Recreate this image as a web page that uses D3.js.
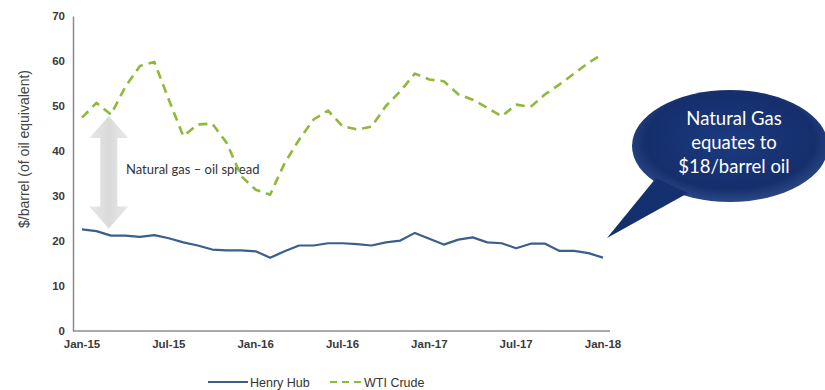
<!DOCTYPE html>
<html>
<head>
<meta charset="utf-8">
<script src="https://cdn.jsdelivr.net/npm/d3@7/dist/d3.min.js"></script>
<style>
	html, body { margin: 0; padding: 0; background: #fff; }
	svg { display: block; }
	.tick-label { font-family: "Liberation Sans", Arial, sans-serif; font-weight: bold; font-size: 11.5px; fill: #3a3a3a; }
	.legend-label { font-family: "Liberation Sans", Arial, sans-serif; font-size: 12.5px; fill: #333; }
</style>
</head>
<body>
<svg id="chart"></svg>
<script>

// Monthly values, Jan-15 .. Jan-18 ($/barrel of oil equivalent)
var months = [
	'Jan-15', 'Feb-15', 'Mar-15', 'Apr-15', 'May-15', 'Jun-15', 'Jul-15', 'Aug-15', 'Sep-15', 'Oct-15', 'Nov-15', 'Dec-15',
	'Jan-16', 'Feb-16', 'Mar-16', 'Apr-16', 'May-16', 'Jun-16', 'Jul-16', 'Aug-16', 'Sep-16', 'Oct-16', 'Nov-16', 'Dec-16',
	'Jan-17', 'Feb-17', 'Mar-17', 'Apr-17', 'May-17', 'Jun-17', 'Jul-17', 'Aug-17', 'Sep-17', 'Oct-17', 'Nov-17', 'Dec-17',
	'Jan-18'
];

var henryHub = [
	22.6, 22.2, 21.2, 21.2, 20.9, 21.3, 20.6, 19.7, 19.0, 18.1, 17.9, 17.9,
	17.7, 16.3, 17.7, 19.0, 19.0, 19.5, 19.5, 19.3, 19.0, 19.7, 20.1, 21.8,
	20.5, 19.2, 20.3, 20.8, 19.7, 19.5, 18.4, 19.4, 19.4, 17.8, 17.8, 17.3,
	16.3
];

var wtiCrude = [
	47.4, 50.7, 48.1, 54.3, 58.9, 59.8, 51.4, 43.3, 45.9, 46.1, 41.8, 34.4,
	31.4, 30.3, 37.3, 42.5, 47.0, 49.0, 45.5, 44.8, 45.4, 50.0, 53.3, 57.2,
	55.9, 55.5, 52.6, 51.4, 49.6, 47.7, 50.3, 49.8, 52.6, 54.8, 57.2, 59.6,
	61.6
];

var xTickLabels = [ 'Jan-15', 'Jul-15', 'Jan-16', 'Jul-16', 'Jan-17', 'Jul-17', 'Jan-18' ];
var yTicks = [ 0, 10, 20, 30, 40, 50, 60, 70 ];

var calloutLines = [ 'Natural Gas', 'equates to', '$18/barrel oil' ];

var colors = {
	henry: '#3b5f8c',
	wti: '#8fb83c',
	axis: '#8c8c8c',
	bubble: '#15306e'
};

var width = 825;
var height = 390;

var svg = d3.select( '#chart' )
	.attr( 'width', width )
	.attr( 'height', height );

var x = d3.scaleLinear()
	.domain( [ 0, months.length - 1 ] )
	.range( [ 82, 603 ] );

var y = d3.scaleLinear()
	.domain( [ 0, 70 ] )
	.range( [ 331, 16 ] );

var defs = svg.append( 'defs' );

var bubbleGrad = defs.append( 'radialGradient' )
	.attr( 'id', 'bubble-grad' )
	.attr( 'cx', '50%' ).attr( 'cy', '45%' ).attr( 'r', '60%' );
bubbleGrad.append( 'stop' ).attr( 'offset', '0%' ).attr( 'stop-color', '#1b3a80' );
bubbleGrad.append( 'stop' ).attr( 'offset', '72%' ).attr( 'stop-color', '#152f6c' );
bubbleGrad.append( 'stop' ).attr( 'offset', '100%' ).attr( 'stop-color', '#34528f' );

var arrowGrad = defs.append( 'linearGradient' )
	.attr( 'id', 'arrow-grad' )
	.attr( 'x1', 0 ).attr( 'x2', 1 ).attr( 'y1', 0 ).attr( 'y2', 0 );
arrowGrad.append( 'stop' ).attr( 'offset', '0%' ).attr( 'stop-color', '#e8e8e8' );
arrowGrad.append( 'stop' ).attr( 'offset', '50%' ).attr( 'stop-color', '#dadada' );
arrowGrad.append( 'stop' ).attr( 'offset', '100%' ).attr( 'stop-color', '#e8e8e8' );

// Axes: only the lines and labels, no tick marks.
var yAxis = svg.append( 'g' )
	.attr( 'transform', 'translate(73,0)' )
	.call( d3.axisLeft( y ).tickValues( yTicks ).tickSize( 0 ).tickPadding( 8 ) );
yAxis.select( '.domain' ).attr( 'stroke', colors.axis ).attr( 'stroke-width', 1.5 );
yAxis.selectAll( 'text' ).attr( 'class', 'tick-label' ).attr( 'font-family', null ).attr( 'font-size', null );

svg.append( 'line' )
	.attr( 'x1', 73 ).attr( 'x2', 610 )
	.attr( 'y1', y( 0 ) ).attr( 'y2', y( 0 ) )
	.attr( 'stroke', colors.axis )
	.attr( 'stroke-width', 1.5 );

svg.append( 'g' )
	.selectAll( 'text' )
	.data( xTickLabels )
	.enter()
	.append( 'text' )
	.attr( 'class', 'tick-label' )
	.attr( 'x', function ( d ) {
		return x( months.indexOf( d ) );
	} )
	.attr( 'y', 348 )
	.attr( 'text-anchor', 'middle' )
	.text( function ( d ) {
		return d;
	} );

svg.append( 'text' )
	.attr( 'transform', 'translate(29,149) rotate(-90)' )
	.attr( 'text-anchor', 'middle' )
	.style( 'font-family', '"Liberation Sans", Arial, sans-serif' )
	.style( 'font-size', '14px' )
	.style( 'fill', '#444' )
	.text( '$/barrel (of oil equivalent)' );

// Spread arrow between the two series at Mar-15.
var ax = x( 1.85 );
var aTop = y( 47.8 );
var aBot = y( 22.8 );
var headW = 19.5;
var shaftW = 8.5;
var headH = 22;
svg.append( 'path' )
	.attr( 'd', [
		'M', ax, aTop,
		'L', ax + headW, aTop + headH,
		'L', ax + shaftW, aTop + headH,
		'L', ax + shaftW, aBot - headH,
		'L', ax + headW, aBot - headH,
		'L', ax, aBot,
		'L', ax - headW, aBot - headH,
		'L', ax - shaftW, aBot - headH,
		'L', ax - shaftW, aTop + headH,
		'L', ax - headW, aTop + headH,
		'Z'
	].join( ' ' ) )
	.attr( 'fill', 'url(#arrow-grad)' );

svg.append( 'text' )
	.attr( 'x', 126 )
	.attr( 'y', y( 34.8 ) )
	.style( 'font-family', 'Lato, "Open Sans", sans-serif' )
	.style( 'font-size', '13px' )
	.style( 'fill', '#333' )
	.text( 'Natural gas \u2013 oil spread' );

var line = d3.line()
	.x( function ( d, i ) {
		return x( i );
	} )
	.y( function ( d ) {
		return y( d );
	} );

svg.append( 'path' )
	.datum( henryHub )
	.attr( 'd', line )
	.attr( 'fill', 'none' )
	.attr( 'stroke', colors.henry )
	.attr( 'stroke-width', 2.2 )
	.attr( 'stroke-linejoin', 'round' );

svg.append( 'path' )
	.datum( wtiCrude )
	.attr( 'd', line )
	.attr( 'fill', 'none' )
	.attr( 'stroke', colors.wti )
	.attr( 'stroke-width', 2.6 )
	.attr( 'stroke-dasharray', '9,6' )
	.attr( 'stroke-linejoin', 'round' );

// Speech bubble
var bubble = svg.append( 'g' );
var bcx = 730, bcy = 146, brx = 98, bry = 56;
bubble.append( 'ellipse' )
	.attr( 'cx', bcx ).attr( 'cy', bcy )
	.attr( 'rx', brx ).attr( 'ry', bry )
	.attr( 'fill', 'url(#bubble-grad)' );
bubble.append( 'path' )
	.attr( 'd', 'M 656 178 L 607 238 L 688 193 Z' )
	.attr( 'fill', colors.bubble );

bubble.selectAll( 'text' )
	.data( calloutLines )
	.enter()
	.append( 'text' )
	.attr( 'x', 734 )
	.attr( 'y', function ( d, i ) {
		return 125 + i * 24;
	} )
	.attr( 'text-anchor', 'middle' )
	.style( 'font-family', 'Lato, "Open Sans", sans-serif' )
	.style( 'font-size', '18.5px' )
	.style( 'fill', '#fff' )
	.text( function ( d ) {
		return d;
	} );

// Legend
var legend = svg.append( 'g' ).attr( 'transform', 'translate(0,382)' );
legend.append( 'line' )
	.attr( 'x1', 208 ).attr( 'x2', 248 ).attr( 'y1', 0 ).attr( 'y2', 0 )
	.attr( 'stroke', colors.henry ).attr( 'stroke-width', 2.2 );
legend.append( 'text' )
	.attr( 'x', 250 ).attr( 'y', 4.5 )
	.attr( 'class', 'legend-label' )
	.text( 'Henry Hub' );
legend.append( 'line' )
	.attr( 'x1', 330 ).attr( 'x2', 363 ).attr( 'y1', 0 ).attr( 'y2', 0 )
	.attr( 'stroke', colors.wti ).attr( 'stroke-width', 2.2 )
	.attr( 'stroke-dasharray', '7,5' );
legend.append( 'text' )
	.attr( 'x', 364 ).attr( 'y', 4.5 )
	.attr( 'class', 'legend-label' )
	.text( 'WTI Crude' );

</script>
</body>
</html>
